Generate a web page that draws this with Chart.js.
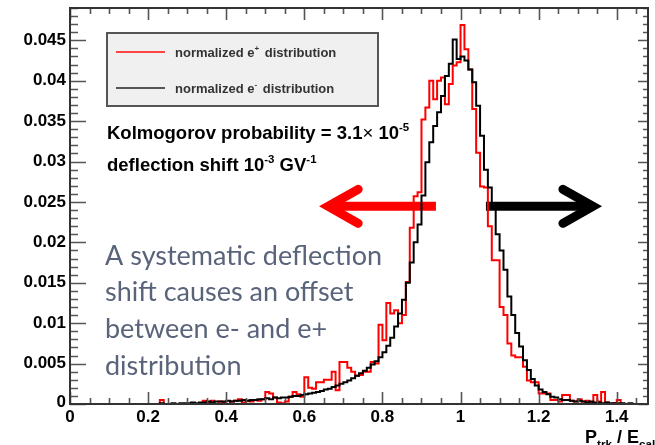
<!DOCTYPE html>
<html>
<head>
<meta charset="utf-8">
<script src="https://cdn.jsdelivr.net/npm/chart.js@4"></script>
<style>
  html, body { margin: 0; padding: 0; background: #fff; overflow: hidden; }
  canvas { display: block; }
</style>
</head>
<body>
<canvas id="c" width="655" height="445"></canvas>
<script>
// Histogram binning of P_trk / E_cal
const BIN_START = 0.0;
const BIN_WIDTH = 0.01;

// normalized e- distribution (black), one value per bin starting at 0.00
const electronDist = [
  0,0,0,0,0,0,0,0,0,0,
  0,0,0,0,0,0,0,0,0,0,
  0,0,0,0,0.0001,0,0,0.0001,0,0.0001,
  0.0001,0.0001,0.0002,0.0001,0.0002,0.0002,0.0003,0.0002,0.0003,0.0003,
  0.0003,0.0004,0.0003,0.0004,0.0004,0.0005,0.0004,0.0005,0.0005,0.0006,
  0.0006,0.0007,0.0006,0.0008,0.0007,0.0008,0.0008,0.0009,0.0010,0.0010,
  0.0011,0.0012,0.0013,0.0014,0.0015,0.0016,0.0018,0.0019,0.0021,0.0023,
  0.0025,0.0027,0.0029,0.0032,0.0035,0.0038,0.0041,0.0045,0.0049,0.0053,
  0.0058,0.0064,0.0072,0.0082,0.0096,0.0112,0.0129,0.0150,0.0175,0.0200,
  0.0222,0.0258,0.0299,0.0324,0.0344,0.0361,0.0381,0.0406,0.0421,0.0451,
  0.0427,0.0430,0.0425,0.0414,0.0398,0.0369,0.0332,0.0290,0.0268,0.0245,
  0.0210,0.0190,0.0166,0.0133,0.0110,0.0088,0.0071,0.0054,0.0042,0.0031,
  0.0023,0.0018,0.0015,0.0012,0.0009,0.0008,0.0006,0.0005,0.0005,0.0004,
  0.0003,0.0004,0.0003,0.0002,0.0003,0.0002,0.0002,0.0001,0.0002,0.0001,
  0.0001,0.0001,0.0001,0,0.0001,0,0,0
];

// normalized e+ distribution (red), same binning
const positronDist = [
  0,0,0,0,0,0,0,0,0,0,
  0,0,0,0,0,0,0,0,0,0,
  0,0,0,0,0.0005,0,0,0,0,0,
  0,0,0,0,0,0.0004,0.0002,0.0004,0,0.0003,
  0.0002,0,0.0003,0.0004,0.0006,0.0002,0.0004,0.0003,0.0005,0.0004,
  0.0006,0.0015,0.0013,0.0008,0.0002,0.0001,0.0003,0.0009,0.0015,0.0012,
  0.0009,0.0033,0.0020,0.0019,0.0027,0.0027,0.0030,0.0030,0.0040,0.0017,
  0.0052,0.0052,0.0045,0.0040,0.0035,0.0036,0.0040,0.0040,0.0052,0.0050,
  0.0098,0.0079,0.0125,0.0112,0.0116,0.0100,0.0110,0.0151,0.0218,0.0257,
  0.0262,0.0352,0.0367,0.0400,0.0377,0.0400,0.0404,0.0371,0.0396,0.0419,
  0.0423,0.0469,0.0439,0.0414,0.0365,0.0311,0.0269,0.0268,0.0220,0.0178,
  0.0178,0.0120,0.0110,0.0075,0.0060,0.0058,0.0058,0.0046,0.0029,0.0027,
  0.0027,0.0013,0.0013,0.0013,0.0005,0.0005,0.0003,0.0011,0.0011,0.0004,
  0.0003,0.0006,0.0003,0.0004,0.0002,0.0011,0.0003,0.0015,0.0002,0,
  0.0001,0.0005,0,0,0,0,0,0
];

// Axis ranges and tick labels
const X_MIN = 0, X_MAX = 1.48;
const Y_MIN = 0, Y_MAX = 0.049;
const xTickValues = [0, 0.2, 0.4, 0.6, 0.8, 1.0, 1.2, 1.4];
const xTickLabels = ['0', '0.2', '0.4', '0.6', '0.8', '1', '1.2', '1.4'];
const yTickValues = [0, 0.005, 0.01, 0.015, 0.02, 0.025, 0.03, 0.035, 0.04, 0.045];
const yTickLabels = ['0', '0.005', '0.01', '0.015', '0.02', '0.025', '0.03', '0.035', '0.04', '0.045'];
const X_MINOR_STEP = 0.05;
const Y_MINOR_STEP = 0.001;

// Direction arrows (data coordinates of shaft start and visible tip)
const leftArrow  = { from: 0.937, to: 0.638, y: 0.02446, color: '#ff0000' };
const rightArrow = { from: 1.065, to: 1.362, y: 0.02446, color: '#000000' };

// Explanatory note
const noteLines = ['A systematic deflection', 'shift causes an offset', 'between e- and e+', 'distribution'];

function toSteps(values) {
  const pts = values.map((v, i) => ({ x: BIN_START + i * BIN_WIDTH, y: v }));
  pts.push({ x: BIN_START + values.length * BIN_WIDTH, y: values[values.length - 1] });
  return pts;
}

const AX_FONT = 'bold 17px "Liberation Sans", Arial, sans-serif';

// Draws a run of text pieces; pieces flagged sup/sub are shifted and smaller
function drawRich(ctx, parts, x, y, size, weight, color) {
  ctx.save();
  ctx.fillStyle = color;
  ctx.textBaseline = 'alphabetic';
  ctx.textAlign = 'left';
  let cx = x;
  for (const p of parts) {
    const s = p.sup ? size * 0.62 : (p.sub ? size * 0.65 : size);
    const w = p.weight || weight;
    ctx.font = `${w} ${s}px "Liberation Sans", Arial, sans-serif`;
    const dy = p.sup ? -size * 0.42 : (p.sub ? size * 0.3 : 0);
    ctx.fillText(p.t, cx, y + dy);
    cx += ctx.measureText(p.t).width + (p.gap || 0);
  }
  ctx.restore();
}

function drawArrow(ctx, xs, ys, a) {
  const x0 = xs.getPixelForValue(a.from);
  const dir = Math.sign(a.to - a.from);
  // pull the stroked head back so its outer point lands on the tip
  const x1 = xs.getPixelForValue(a.to) - dir * 9;
  const y = ys.getPixelForValue(a.y);
  ctx.save();
  ctx.strokeStyle = a.color;
  ctx.lineWidth = 9;
  ctx.lineCap = 'butt';
  ctx.beginPath();
  ctx.moveTo(x0, y);
  ctx.lineTo(x1 - dir * 4, y);
  ctx.stroke();
  ctx.lineCap = 'round';
  ctx.lineJoin = 'miter';
  ctx.beginPath();
  ctx.moveTo(x1 - dir * 30, y - 17);
  ctx.lineTo(x1, y);
  ctx.lineTo(x1 - dir * 30, y + 17);
  ctx.stroke();
  ctx.restore();
}

const decorPlugin = {
  id: 'decor',
  beforeDatasetsDraw(chart) {
    const ctx = chart.ctx;
    const xs = chart.scales.x, ys = chart.scales.y;
    drawArrow(ctx, xs, ys, leftArrow);
    drawArrow(ctx, xs, ys, rightArrow);
  },
  afterDatasetsDraw(chart) {
    const ctx = chart.ctx;
    const xs = chart.scales.x, ys = chart.scales.y;
    const a = chart.chartArea;

    // note text
    ctx.save();
    ctx.fillStyle = '#59637a';
    ctx.font = '27px Lato, "Open Sans", sans-serif';
    ctx.textBaseline = 'middle';
    noteLines.forEach((line, i) => ctx.fillText(line, 105, 256 + i * 36.7));
    ctx.restore();

    // tick marks
    ctx.save();
    ctx.strokeStyle = '#555';
    ctx.lineWidth = 1.6;
    ctx.beginPath();
    for (let v = X_MIN; v <= X_MAX + 1e-9; v += X_MINOR_STEP) {
      const px = Math.round(xs.getPixelForValue(v)) + 0.5;
      const major = xTickValues.some(t => Math.abs(t - v) < 1e-6);
      const len = major ? 12 : 6;
      ctx.moveTo(px, a.bottom); ctx.lineTo(px, a.bottom - len);
      ctx.moveTo(px, a.top); ctx.lineTo(px, a.top + len);
    }
    for (let v = Y_MIN; v <= Y_MAX + 1e-9; v += Y_MINOR_STEP) {
      const py = Math.round(ys.getPixelForValue(v)) + 0.5;
      const major = yTickValues.some(t => Math.abs(t - v) < 1e-6);
      ctx.moveTo(a.left, py); ctx.lineTo(a.left + (major ? 16 : 8), py);
      ctx.moveTo(a.right, py); ctx.lineTo(a.right - (major ? 10 : 5), py);
    }
    ctx.stroke();

    // frame
    ctx.strokeStyle = '#333';
    ctx.lineWidth = 2;
    ctx.strokeRect(a.left, a.top, a.right - a.left, a.bottom - a.top);
    ctx.restore();

    // tick labels
    ctx.save();
    ctx.fillStyle = '#000';
    ctx.font = AX_FONT;
    ctx.textAlign = 'right';
    ctx.textBaseline = 'middle';
    yTickValues.forEach((v, i) => {
      const py = ys.getPixelForValue(v);
      ctx.fillText(yTickLabels[i], a.left - 4, i === 0 ? py - 2 : py);
    });
    ctx.textAlign = 'center';
    ctx.textBaseline = 'top';
    xTickValues.forEach((v, i) => {
      ctx.fillText(xTickLabels[i], xs.getPixelForValue(v), a.bottom + 5);
    });
    ctx.restore();

    // axis title
    drawRich(ctx, [
      { t: 'P' }, { t: 'trk', sub: true }, { t: ' / E' }, { t: 'cal', sub: true }
    ], 585, 443, 18, 'bold', '#000');

    // legend box
    ctx.save();
    ctx.fillStyle = '#f0f0f0';
    ctx.fillRect(107, 33, 271, 73);
    ctx.strokeStyle = '#555';
    ctx.lineWidth = 2;
    ctx.strokeRect(107, 33, 271, 73);
    const entries = [
      { y: 52, color: '#ff4444' },
      { y: 88, color: '#555555' }
    ];
    entries.forEach(e => {
      ctx.strokeStyle = e.color;
      ctx.lineWidth = 2;
      ctx.beginPath();
      ctx.moveTo(116, e.y); ctx.lineTo(165, e.y);
      ctx.stroke();
    });
    ctx.restore();
    drawRich(ctx, [{ t: 'normalized e' }, { t: '+', sup: true, gap: 2 }, { t: ' distribution' }],
      175, 56.5, 13, 'bold', '#333');
    drawRich(ctx, [{ t: 'normalized e' }, { t: '-', sup: true, gap: 2 }, { t: ' distribution' }],
      175, 92.5, 13, 'bold', '#333');

    // statistics text
    drawRich(ctx, [
      { t: 'Kolmogorov probability = 3.1' },
      { t: '\u00d7 ', weight: 'normal' },
      { t: '10' }, { t: '-5', sup: true }
    ], 107, 139, 18.5, 'bold', '#000');
    drawRich(ctx, [
      { t: 'deflection shift 10' }, { t: '-3', sup: true },
      { t: ' GV' }, { t: '-1', sup: true }
    ], 107, 171, 18.5, 'bold', '#000');
  }
};

new Chart(document.getElementById('c'), {
  type: 'line',
  data: {
    datasets: [
      {
        label: 'normalized e+ distribution',
        data: toSteps(positronDist),
        borderColor: '#ff0000',
        borderWidth: 2,
        stepped: 'after',
        pointRadius: 0,
        fill: false,
        order: 2
      },
      {
        label: 'normalized e- distribution',
        data: toSteps(electronDist),
        borderColor: '#000000',
        borderWidth: 2,
        stepped: 'after',
        pointRadius: 0,
        fill: false,
        order: 1
      }
    ]
  },
  options: {
    responsive: false,
    animation: false,
    devicePixelRatio: 1,
    layout: { padding: { left: 70, right: 7, top: 8, bottom: 41 } },
    plugins: { legend: { display: false }, tooltip: { enabled: false } },
    scales: {
      x: { type: 'linear', min: X_MIN, max: X_MAX, display: false },
      y: { type: 'linear', min: Y_MIN, max: Y_MAX, display: false }
    }
  },
  plugins: [decorPlugin]
});
</script>
</body>
</html>
